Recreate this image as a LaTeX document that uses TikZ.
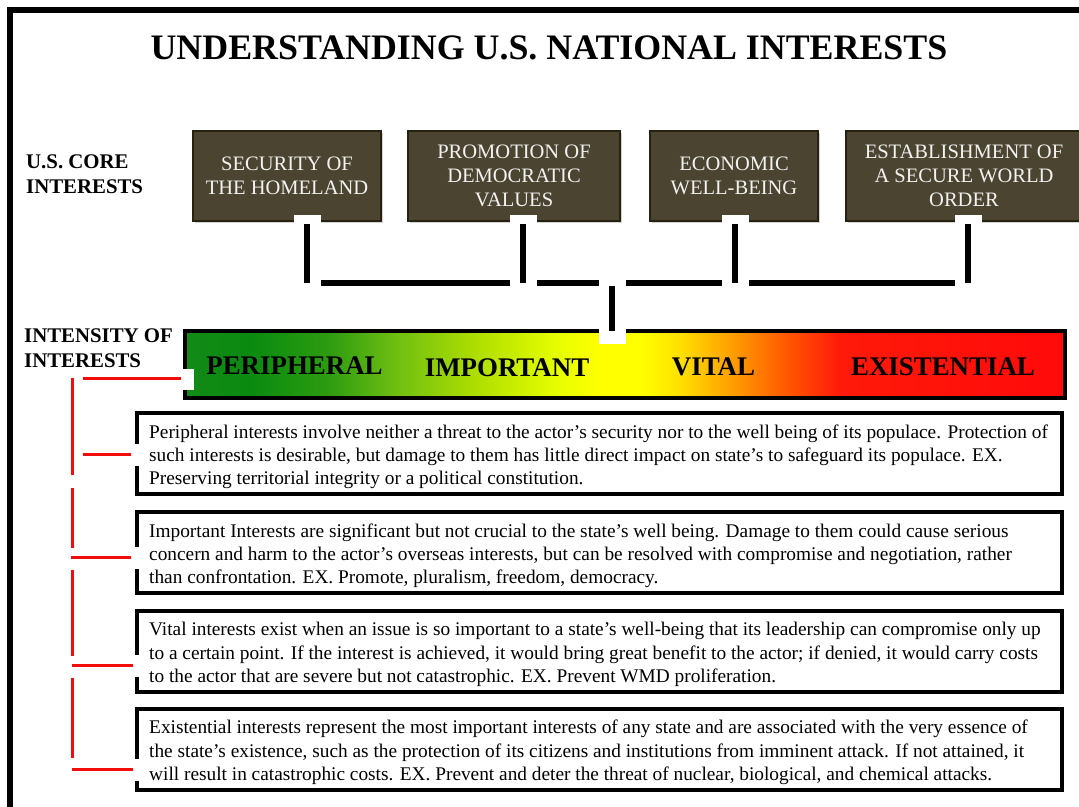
\documentclass[tikz,border=0pt]{standalone}
\usepackage{fontspec}
\setmainfont{Liberation Serif}
\usetikzlibrary{calc,shadows}
\definecolor{coreFill}{HTML}{4B4431}
\definecolor{coreLine}{HTML}{26220F}
\definecolor{coreText}{HTML}{F2F2F0}
\definecolor{gA}{HTML}{138A17}
\definecolor{gB}{HTML}{0A8A10}
\definecolor{gC}{HTML}{2E9C10}
\definecolor{gD}{HTML}{72C010}
\definecolor{gE}{HTML}{B2E000}
\definecolor{gF}{HTML}{E8FF00}
\definecolor{gY}{HTML}{FFFF00}
\definecolor{gG}{HTML}{FFE000}
\definecolor{gO}{HTML}{FFA000}
\definecolor{gP}{HTML}{FF6000}
\definecolor{gR}{HTML}{FF1A0A}
\definecolor{gS}{HTML}{FF0A0A}
\definecolor{redLine}{HTML}{F20D0D}
\pgfdeclarehorizontalshading{bargrad}{100bp}{color(0bp)=(gA); color(25bp)=(gA); color(28.7bp)=(gB); color(33.2bp)=(gC); color(37.2bp)=(gD); color(41.8bp)=(gE); color(46.3bp)=(gF); color(48.6bp)=(gY); color(50.9bp)=(gY); color(53.1bp)=(gG); color(56bp)=(gO); color(58.8bp)=(gP); color(62.2bp)=(gR); color(75bp)=(gS); color(100bp)=(gS)}
\begin{document}
\begin{tikzpicture}[x=1bp,y=-1bp,
  core/.style={draw=coreLine, line width=2bp, fill=coreFill, text=coreText, align=center,
    font=\fontsize{20.6}{24}\selectfont, minimum height=90bp, inner sep=0pt,
    drop shadow={shadow xshift=2bp, shadow yshift=-2bp, opacity=0.35}},
  conn/.style={line width=6bp, black},
  halo/.style={line width=27bp, white},
  desc/.style={draw=black, line width=4bp, fill=white, minimum width=925bp, minimum height=81bp, inner sep=0pt},
  desctext/.style={anchor=west, align=left, inner sep=0pt, font=\fontsize{19.4}{23.3}\selectfont},
  lvl/.style={font=\bfseries\fontsize{27}{30}\selectfont, inner sep=0pt},
  side/.style={anchor=north west, align=left, inner sep=0pt, font=\bfseries\fontsize{20.9}{24.5}\selectfont},
  redl/.style={line width=3bp, redLine},
  gap/.style={fill=white, draw=none}]
\useasboundingbox (0,0) rectangle (1079,807);
\clip (0,0) rectangle (1079,807);
\fill[white] (0,0) rectangle (1079,807);
% outer frame
\draw[line width=6bp] (10,830) -- (10,10) -- (1100,10);
% title
\node[font=\bfseries\fontsize{36}{40}\selectfont, inner sep=0pt] (title) at (549,47.5) {UNDERSTANDING U.S. NATIONAL INTERESTS};
% side labels
\node[side] (corelbl) at (26,155) {U.S. CORE\\INTERESTS};
\node[side] (intlbl) at (24,329) {INTENSITY OF\\INTERESTS};
% core boxes
\node[core, minimum width=188bp] (b1) at (287,176) {SECURITY OF\\THE HOMELAND};
\node[core, minimum width=212bp] (b2) at (514,176) {PROMOTION OF\\DEMOCRATIC\\VALUES};
\node[core, minimum width=168bp] (b3) at (734,176) {ECONOMIC\\WELL-BEING};
\node[core, minimum width=236bp] (b4) at (964,176) {ESTABLISHMENT OF\\A SECURE WORLD\\ORDER};
% gradient bar
\node[draw=black, line width=4bp, shading=bargrad, minimum width=880bp, minimum height=67bp, inner sep=0pt] (bar) at (625,364.5) {};
% connectors
\coordinate (k1) at (307,283);
\coordinate (k2) at (523,283);
\coordinate (k3) at (735,283);
\coordinate (k4) at (968,283);
\coordinate (kc) at (612,283);
\draw[conn] (k1) -- (k4);
\foreach \b/\k in {b1/k1,b2/k2,b3/k3,b4/k4}{
  \draw[halo] ($(\b.south -| \k)+(0,-7)$) -- ($(\k)+(0,10)$);
  \draw[conn] ($(\b.south -| \k)+(0,2)$) -- (\k);
}
\draw[halo] ($(kc)+(0,-3)$) -- ($(bar.north -| kc)+(0,15)$);
\draw[conn] ($(kc)+(0,3)$) -- ($(bar.north -| kc)+(0,2)$);
% level labels
\node[lvl] (lp) at (294.5,366) {PERIPHERAL};
\node[lvl] (li) at (507,368) {IMPORTANT};
\node[lvl] (lv) at (713.5,367) {VITAL};
\node[lvl] (le) at (943,367) {EXISTENTIAL};
% description boxes
\node[desc] (dA) at (599.5,453.5) {};
\node[desc] (dB) at (599.5,552.5) {};
\node[desc] (dC) at (599.5,651) {};
\node[desc] (dD) at (599.5,749) {};
\node[desctext] (tA) at ([xshift=14bp,yshift=-3.4bp]dA.west) {Peripheral interests involve neither a threat to the actor’s security nor to the well being of its populace. Protection of\\such interests is desirable, but damage to them has little direct impact on state’s to safeguard its populace. EX.\\Preserving territorial integrity or a political constitution.};
\node[desctext] (tB) at ([xshift=14bp,yshift=-3.4bp]dB.west) {Important Interests are significant but not crucial to the state’s well being. Damage to them could cause serious\\concern and harm to the actor’s overseas interests, but can be resolved with compromise and negotiation, rather\\than confrontation. EX. Promote, pluralism, freedom, democracy.};
\node[desctext] (tC) at ([xshift=14bp,yshift=-3.4bp]dC.west) {Vital interests exist when an issue is so important to a state’s well-being that its leadership can compromise only up\\to a certain point. If the interest is achieved, it would bring great benefit to the actor; if denied, it would carry costs\\to the actor that are severe but not catastrophic. EX. Prevent WMD proliferation.};
\node[desctext] (tD) at ([xshift=14bp,yshift=-3.4bp]dD.west) {Existential interests represent the most important interests of any state and are associated with the very essence of\\the state’s existence, such as the protection of its citizens and institutions from imminent attack. If not attained, it\\will result in catastrophic costs. EX. Prevent and deter the threat of nuclear, biological, and chemical attacks.};
% red bracket
\coordinate (rA) at (dA.west |- 0,454);
\coordinate (rB) at (dB.west |- 0,557);
\coordinate (rC) at (dC.west |- 0,665);
\coordinate (rD) at (dD.west |- 0,769);
\coordinate (rP) at (bar.west |- 0,378);
\foreach \r in {rA,rB,rC,rD}{
  \fill[gap] ($(\r)+(-6,-10)$) rectangle ($(\r)+(5,12)$);
}
\fill[gap] ($(rP)+(-2,-9)$) rectangle ($(rP)+(11,12)$);
\draw[redl] (83,378) -- ($(rP)+(-2,0)$);
\draw[redl] (83,454) -- ($(rA)+(-4,0)$);
\draw[redl] (71,557) -- ($(rB)+(-4,0)$);
\draw[redl] (72,665) -- ($(rC)+(-2,0)$);
\draw[redl] (72,769) -- ($(rD)+(-2,0)$);
\draw[redl] (72,378) -- (72,475);
\draw[redl] (72,488) -- (72,548);
\draw[redl] (72,570) -- (72,656);
\draw[redl] (72,678) -- (72,758);
\end{tikzpicture}
\end{document}
